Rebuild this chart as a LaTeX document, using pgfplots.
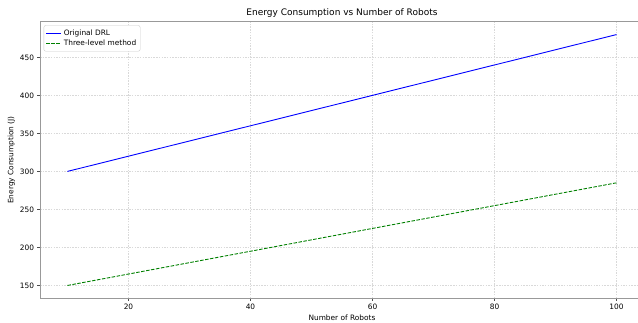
\documentclass[border=0pt]{standalone}
\usepackage{fontspec}
\setmainfont{DejaVu Sans}
\usepackage{pgfplots}
\pgfplotsset{compat=1.18}
\definecolor{mplgreen}{RGB}{0,128,0}
\begin{document}
\begin{tikzpicture}[x=1pt,y=1pt]
\begin{axis}[
  at={(40pt,24pt)}, anchor=south west,
  scale only axis, width=604pt, height=276pt,
  xmin=5.5, xmax=104.5, ymin=133.5, ymax=496.5,
  xtick={20,40,60,80,100}, ytick={150,200,...,450},
  axis line style={black!40, line width=1pt},
  tick style={black!70, line width=0.6pt},
  tick align=outside, major tick length=2.5pt,
  tick pos=left,
  grid=major, grid style={dash pattern=on 1.5pt off 1.2pt, black!15, line width=0.35pt},
  tick label style={font=\fontsize{7.4}{8.5}\selectfont},
  /pgf/number format/assume math mode=true,
  xlabel={Number of Robots}, ylabel={Energy Consumption (J)},
  label style={font=\fontsize{7.4}{8.5}\selectfont},
  xlabel style={yshift=2pt},
  ylabel style={yshift=-2pt},
  title={Energy Consumption vs Number of Robots},
  title style={font=\fontsize{9}{10}\selectfont, yshift=-5pt},
  legend style={at={(0.006,0.988)}, anchor=north west, font=\fontsize{7.4}{8.5}\selectfont,
    draw=black!20, rounded corners=2pt, inner sep=2pt, row sep=-0.5pt},
  legend cell align=left,
]
\addplot[blue, line width=0.9pt, forget plot] coordinates {(10,300) (20,320) (30,340) (40,360) (50,380) (60,400) (70,420) (80,440) (90,460) (100,480)};
\addplot[mplgreen, line width=0.9pt, dash pattern=on 3.5pt off 1.5pt, forget plot] coordinates {(10,150) (20,165) (30,180) (40,195) (50,210) (60,225) (70,240) (80,255) (90,270) (100,285)};
\addlegendimage{legend image code/.code={\draw[blue, line width=1pt] (0pt,0pt) -- (15pt,0pt);}}
\addlegendentry{Original DRL}
\addlegendimage{legend image code/.code={\draw[mplgreen, line width=1pt, dash pattern=on 3.5pt off 1.5pt] (0pt,0pt) -- (15pt,0pt);}}
\addlegendentry{Three-level method}
\end{axis}
\pgfresetboundingbox
\path[use as bounding box] (0,0) rectangle (638pt,322pt);
\end{tikzpicture}
\end{document}
